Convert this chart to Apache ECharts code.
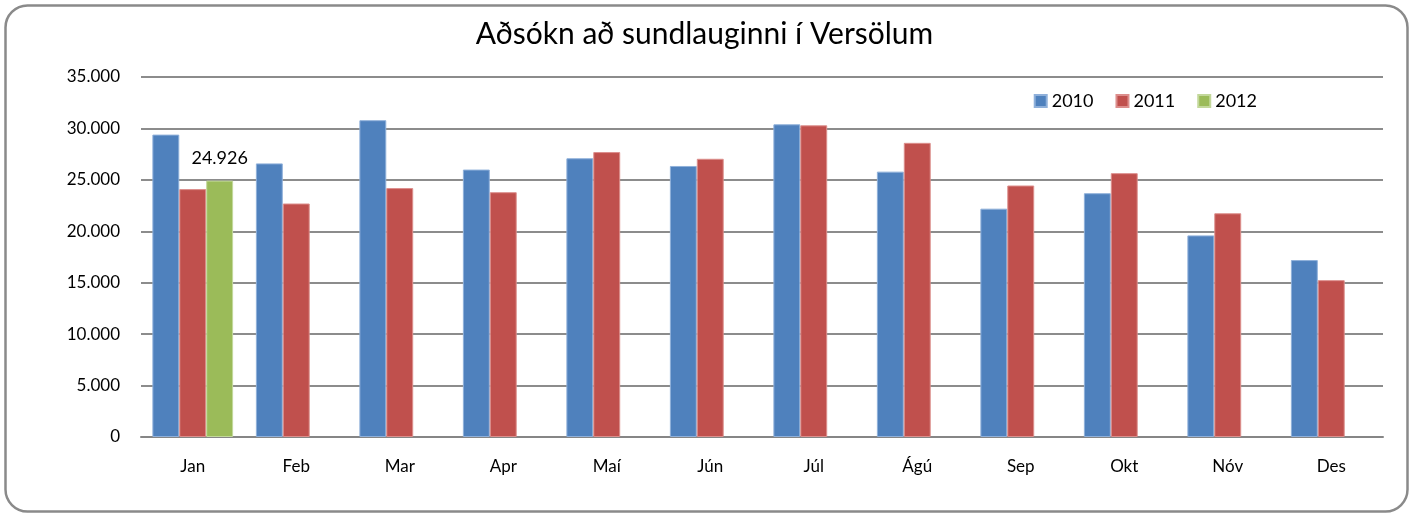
<!DOCTYPE html>
<html>
<head>
<meta charset="utf-8">
<script src="https://cdn.jsdelivr.net/npm/echarts@6/dist/echarts.min.js"></script>
<style>
html,body{margin:0;padding:0;background:#fff;}
#c{width:1409px;height:513px;}
</style>
</head>
<body>
<div id="c"></div>
<script>
const categories = ['Jan','Feb','Mar','Apr','Maí','Jún','Júl','Ágú','Sep','Okt','Nóv','Des'];
const s2010 = [29400,26600,30800,26000,27100,26350,30400,25800,22200,23700,19600,17200];
const s2011 = [24100,22700,24200,23800,27700,27050,30300,28600,24450,25650,21750,15250];
const s2012 = [24926,null,null,null,null,null,null,null,null,null,null,null];
const seriesNames = ['2010','2011','2012'];
const titleText = 'Aðsókn að sundlauginni í Versölum';

const FONT = 'Lato, "Open Sans", "Noto Sans", sans-serif';
function fmt(v){
  return String(Math.round(v)).replace(/\B(?=(\d{3})+(?!\d))/g,'.');
}
const chart = echarts.init(document.getElementById('c'), null, {renderer:'canvas'});
const colors = ['#4F81BD','#C0504D','#9BBB59'];
const borders = ['#8FB0DA','#DC8E8C','#C3D89B'];
function mk(i, data){
  return {
    name: seriesNames[i], type:'bar', data: data,
    barGap:'0%', barCategoryGap:'22%',
    itemStyle:{color:colors[i], borderColor:borders[i], borderWidth:1},
    emphasis:{disabled:true}
  };
}
const series = [mk(0,s2010), mk(1,s2011), mk(2,s2012)];
series[2].label = {
  show:true, position:'top', distance:13,
  formatter: p => fmt(p.value),
  fontFamily: FONT, fontSize:18, color:'#000'
};
chart.setOption({
  animation:false,
  backgroundColor:'#fff',
  color: colors,
  title:{
    text:titleText, left:'center', top:14,
    textStyle:{fontFamily:FONT, fontSize:30, fontWeight:'normal', color:'#000'}
  },
  legend:{
    data:seriesNames, right:147, top:87,
    itemWidth:12, itemHeight:12, itemGap:22,
    icon:'rect',
    textStyle:{fontFamily:FONT, fontSize:18, color:'#000'}
  },
  grid:{left:141, right:26, top:77, bottom:76, containLabel:false},
  xAxis:{
    type:'category', data:categories,
    axisLine:{lineStyle:{color:'#868686', width:2}},
    axisTick:{show:false},
    axisLabel:{fontFamily:FONT, fontSize:17, color:'#000', margin:21}
  },
  yAxis:{
    type:'value', min:0, max:35000, interval:5000,
    axisLine:{show:false}, axisTick:{show:false},
    splitLine:{lineStyle:{color:'#8C8C8C', width:2}},
    axisLabel:{fontFamily:FONT, fontSize:17, color:'#000', margin:21, formatter:fmt}
  },
  graphic:[{
    type:'rect', left:3, top:3, z:100, silent:true,
    shape:{width:1402, height:506, r:22},
    style:{fill:null, stroke:'#8A8A8A', lineWidth:2.5}
  }],
  series: series
});
</script>
</body>
</html>
